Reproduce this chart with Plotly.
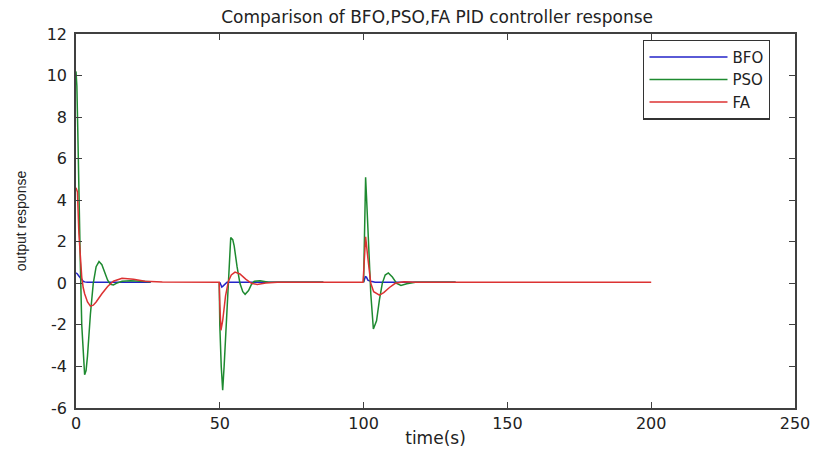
import plotly.graph_objects as go

# ---- data ----
# BFO (blue): three response segments
bfo_t = [0, 0.5, 1, 1.5, 2, 2.5, 3, 4, 6, 10, 15, 20, 26, None,
         50, 50.4, 50.7, 51.2, 51.8, 52.5, 54, 60, 70, 86, None,
         100, 100.3, 100.6, 101, 101.5, 102.5, 104, 110, 120, 132]
bfo_y = [0.5, 0.45, 0.35, 0.25, 0.15, 0.1, 0.07, 0.05, 0.05, 0.05, 0.05, 0.05, 0.05, None,
         0.05, -0.1, -0.18, -0.12, -0.05, 0.05, 0.05, 0.05, 0.05, 0.05, None,
         0.05, 0.2, 0.32, 0.3, 0.15, 0.1, 0.05, 0.05, 0.05, 0.05]

# PSO (green)
pso_t = [0, 0.3, 0.6, 1, 1.5, 2, 2.5, 3, 3.5, 4, 5, 6, 7, 8, 9, 10, 11, 12, 13, 14, 16, 19, 22, 26, None,
         49.8, 50, 50.5, 51, 51.5, 52, 52.5, 53, 53.8, 54.5, 55, 56, 57, 58, 58.8, 60, 61, 62, 64, 67, 72, 80, 86, None,
         100, 100.3, 100.7, 101, 101.5, 102, 102.5, 103.4, 104.5, 105.5, 106.5, 107.5, 108.6, 110, 111.5, 113, 115, 118, 125, 132]
pso_y = [10.2, 9.5, 7.5, 4.0, 1.0, -2.0, -3.5, -4.4, -4.2, -3.5, -1.5, 0.0, 0.8, 1.05, 0.9, 0.5, 0.15, -0.05, -0.08, 0.0, 0.1, 0.13, 0.1, 0.08, None,
         0.05, -2.0, -4.0, -5.14, -4.0, -2.5, -1.0, 0.5, 2.2, 2.1, 1.8, 0.8, 0.0, -0.4, -0.53, -0.35, -0.05, 0.1, 0.12, 0.05, 0.05, 0.05, 0.05, None,
         0.05, 3.0, 5.1, 4.2, 2.5, 1.0, -0.5, -2.2, -1.8, -0.8, 0.0, 0.4, 0.5, 0.3, 0.0, -0.1, -0.02, 0.05, 0.05, 0.05]

# FA (red): continuous from 0 to 200
fa_t = [0, 0.5, 1, 1.5, 2, 2.5, 3, 4, 5, 6, 7, 9, 11, 13, 16, 20, 24, 30, 40,
        49.8, 50, 50.4, 51, 52, 53, 54, 55.3, 57, 59, 61, 63, 66, 70, 80, 90,
        99.8, 100, 100.3, 100.7, 101.5, 102.5, 103.5, 105.5, 107, 109, 111, 114, 118, 130, 150, 175, 200]
fa_y = [4.6, 4.4, 2.4, 1.2, 0.3, -0.2, -0.5, -0.9, -1.1, -1.05, -0.9, -0.5, -0.15, 0.1, 0.24, 0.2, 0.1, 0.07, 0.05,
        0.05, -1.0, -2.26, -1.8, -0.6, 0.1, 0.4, 0.54, 0.45, 0.2, 0.0, -0.05, 0.02, 0.05, 0.05, 0.05,
        0.05, 0.5, 1.2, 2.24, 1.2, 0.0, -0.4, -0.57, -0.45, -0.2, 0.0, 0.08, 0.05, 0.05, 0.05, 0.05, 0.05]

x_ticks = [0, 50, 100, 150, 200, 250]
y_ticks = [-6, -4, -2, 0, 2, 4, 6, 8, 10, 12]

WIDE = "DejaVu Sans, Verdana, sans-serif"
NARROW = "Liberation Sans, Arial, sans-serif"
TXT = "#222222"

fig = go.Figure()
fig.add_trace(go.Scatter(x=bfo_t, y=bfo_y, mode="lines", name="BFO",
                         line=dict(color="#2323c8", width=1.5)))
fig.add_trace(go.Scatter(x=pso_t, y=pso_y, mode="lines", name="PSO",
                         line=dict(color="#1e8a30", width=1.5)))
fig.add_trace(go.Scatter(x=fa_t, y=fa_y, mode="lines", name="FA",
                         line=dict(color="#dc3232", width=1.5)))

axis_common = dict(showgrid=False, zeroline=False, showline=True, linecolor="#404040",
                   linewidth=1.6, mirror="ticks", ticks="inside", ticklen=6,
                   tickcolor="#404040", tickwidth=1.2, automargin=False,
                   tickfont=dict(family=WIDE, size=16, color=TXT))

fig.update_layout(
    width=814, height=452,
    margin=dict(l=76, r=19, t=34, b=44, autoexpand=False),
    paper_bgcolor="white", plot_bgcolor="white",
    title=dict(text="Comparison of BFO,PSO,FA PID controller response",
               x=0.537, xanchor="center", y=0.962, yanchor="middle",
               font=dict(family=WIDE, size=17, color=TXT)),
    xaxis=dict(range=[0, 250], tickvals=x_ticks, ticktext=[str(v) for v in x_ticks],
               ticklabeloverflow="allow",
               title=dict(text="time(s)", font=dict(family=WIDE, size=17, color=TXT), standoff=0),
               **axis_common),
    yaxis=dict(range=[-6, 12], tickvals=y_ticks, ticktext=[str(v) for v in y_ticks],
               ticklabelstandoff=4,
               title=dict(text="output response", font=dict(family=NARROW, size=14, color=TXT), standoff=17),
               **axis_common),
    legend=dict(x=0.789, y=0.985, xanchor="left", yanchor="top",
                bgcolor="white", bordercolor="#333333", borderwidth=1.2,
                font=dict(family=WIDE, size=15, color=TXT),
                itemwidth=78, tracegroupgap=0),
    showlegend=True,
)

# remove the default page margin so the 814x452 figure fills the window exactly
fig.write_html("out.html",
               config={"displayModeBar": False},
               post_script="document.body.style.margin='0';document.body.style.overflow='hidden';")
